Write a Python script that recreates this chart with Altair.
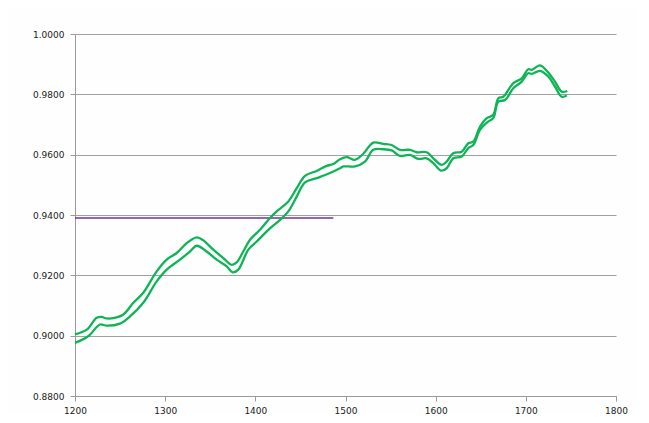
import altair as alt
import pandas as pd

upper_year = [1200, 1213, 1224, 1229.6, 1235, 1242.5, 1253.6, 1264.7, 1275.7, 1290.6, 1301.7, 1312.8,
              1323.9, 1335, 1342.3, 1353.4, 1364.5, 1373.8, 1379.3, 1386.6, 1394.1, 1405.2, 1416.3,
              1423.7, 1436.6, 1445.9, 1455.1, 1468, 1479.1, 1486.5, 1493.9, 1501.3, 1510.5, 1519.7,
              1530.8, 1541.9, 1551.2, 1560.4, 1571.5, 1578.9, 1590, 1597.4, 1606.7, 1612.2, 1619.5,
              1628.9, 1636.2, 1641.7, 1649.2, 1656.6, 1663.9, 1669.5, 1675, 1686.1, 1695.4, 1702.7,
              1706.5, 1715.7, 1724.9, 1732.3, 1739.8, 1746]
upper_val = [0.9004, 0.9020, 0.9059, 0.9062, 0.9057, 0.9058, 0.9070, 0.9109, 0.9142, 0.9213, 0.9252,
             0.9274, 0.9307, 0.9326, 0.9316, 0.9285, 0.9257, 0.9235, 0.9243, 0.9279, 0.9318, 0.9351,
             0.9390, 0.9412, 0.9445, 0.9489, 0.9530, 0.9546, 0.9563, 0.9569, 0.9585, 0.9592, 0.9583,
             0.9603, 0.9640, 0.9636, 0.9632, 0.9616, 0.9616, 0.9608, 0.9608, 0.9588, 0.9566, 0.9577,
             0.9605, 0.9610, 0.9638, 0.9643, 0.9693, 0.9721, 0.9732, 0.9787, 0.9792, 0.9837, 0.9853,
             0.9883, 0.9881, 0.9896, 0.9872, 0.9842, 0.9809, 0.9811]

lower_year = [1200, 1214.7, 1227.7, 1235.2, 1249.9, 1261, 1275.7, 1290.6, 1301.7, 1316.4, 1327.5,
              1335, 1346, 1357.1, 1368.2, 1374.9, 1381.1, 1392.2, 1401.5, 1414.4, 1427.4, 1436.6,
              1445.9, 1455.1, 1468, 1482.8, 1493.9, 1497.6, 1510.5, 1521.6, 1530.8, 1541.9, 1551.2,
              1560.4, 1571.5, 1580.7, 1590, 1597.4, 1605.9, 1612.2, 1619.5, 1628.9, 1636.2, 1641.7,
              1649.2, 1658.4, 1663.9, 1669.5, 1676.9, 1686.1, 1695.4, 1702.7, 1706.5, 1715.7, 1724.9,
              1732.3, 1739.8, 1745.4]
lower_val = [0.8976, 0.8998, 0.9037, 0.9033, 0.9040, 0.9064, 0.9109, 0.9180, 0.9219, 0.9252, 0.9279,
             0.9298, 0.9279, 0.9252, 0.9230, 0.9210, 0.9219, 0.9285, 0.9312, 0.9351, 0.9384, 0.9412,
             0.9461, 0.9508, 0.9522, 0.9539, 0.9555, 0.9561, 0.9561, 0.9577, 0.9616, 0.9618, 0.9614,
             0.9596, 0.9599, 0.9586, 0.9588, 0.9572, 0.9547, 0.9555, 0.9588, 0.9594, 0.9622, 0.9632,
             0.9682, 0.9710, 0.9721, 0.9776, 0.9781, 0.9820, 0.9842, 0.9870, 0.9868, 0.9878, 0.9859,
             0.9826, 0.9792, 0.9796]

ref_year = [1200, 1486.5]
ref_val = [0.9390, 0.9390]

x_ticks = [1200, 1300, 1400, 1500, 1600, 1700, 1800]
y_ticks = [0.88, 0.90, 0.92, 0.94, 0.96, 0.98, 1.00]

df = pd.concat([
    pd.DataFrame({"year": upper_year, "value": upper_val, "series": "upper"}),
    pd.DataFrame({"year": lower_year, "value": lower_val, "series": "lower"}),
])
ref = pd.DataFrame({"year": ref_year, "value": ref_val})

xs = alt.Scale(domain=[1200, 1800], nice=False, zero=False)
ys = alt.Scale(domain=[0.88, 1.0], nice=False, zero=False)

font = "DejaVu Sans"
x_axis = alt.Axis(values=x_ticks, format="d", grid=False, tickSize=5, labelPadding=5,
                  labelFlush=False, domainColor="#9a9a9a", tickColor="#9a9a9a", labelFont=font,
                  labelFontSize=9, labelColor="#222222", title=None)
y_axis = alt.Axis(values=y_ticks, format=".4f", grid=True, gridColor="#a0a0a0", gridWidth=1,
                  tickSize=5, labelPadding=6, labelFlush=False, domainColor="#9a9a9a",
                  tickColor="#9a9a9a", labelFont=font, labelFontSize=9, labelColor="#222222",
                  title=None)

lines = alt.Chart(df).mark_line(strokeWidth=2.3, color="#0fb457", interpolate="catmull-rom").encode(
    x=alt.X("year:Q", scale=xs, axis=x_axis),
    y=alt.Y("value:Q", scale=ys, axis=y_axis),
    detail="series:N",
)

refline = alt.Chart(ref).mark_line(strokeWidth=1.3, color="#7030a0").encode(
    x=alt.X("year:Q", scale=xs),
    y=alt.Y("value:Q", scale=ys),
)

chart = alt.layer(refline, lines).properties(
    width=541, height=362,
    autosize=alt.AutoSizeParams(type="none"),
    padding={"left": 67, "top": 26, "right": 20, "bottom": 18},
    background="#fdfefd",
).configure_view(stroke=None)

chart.save("out.html", embed_options={"renderer": "svg", "actions": False})
